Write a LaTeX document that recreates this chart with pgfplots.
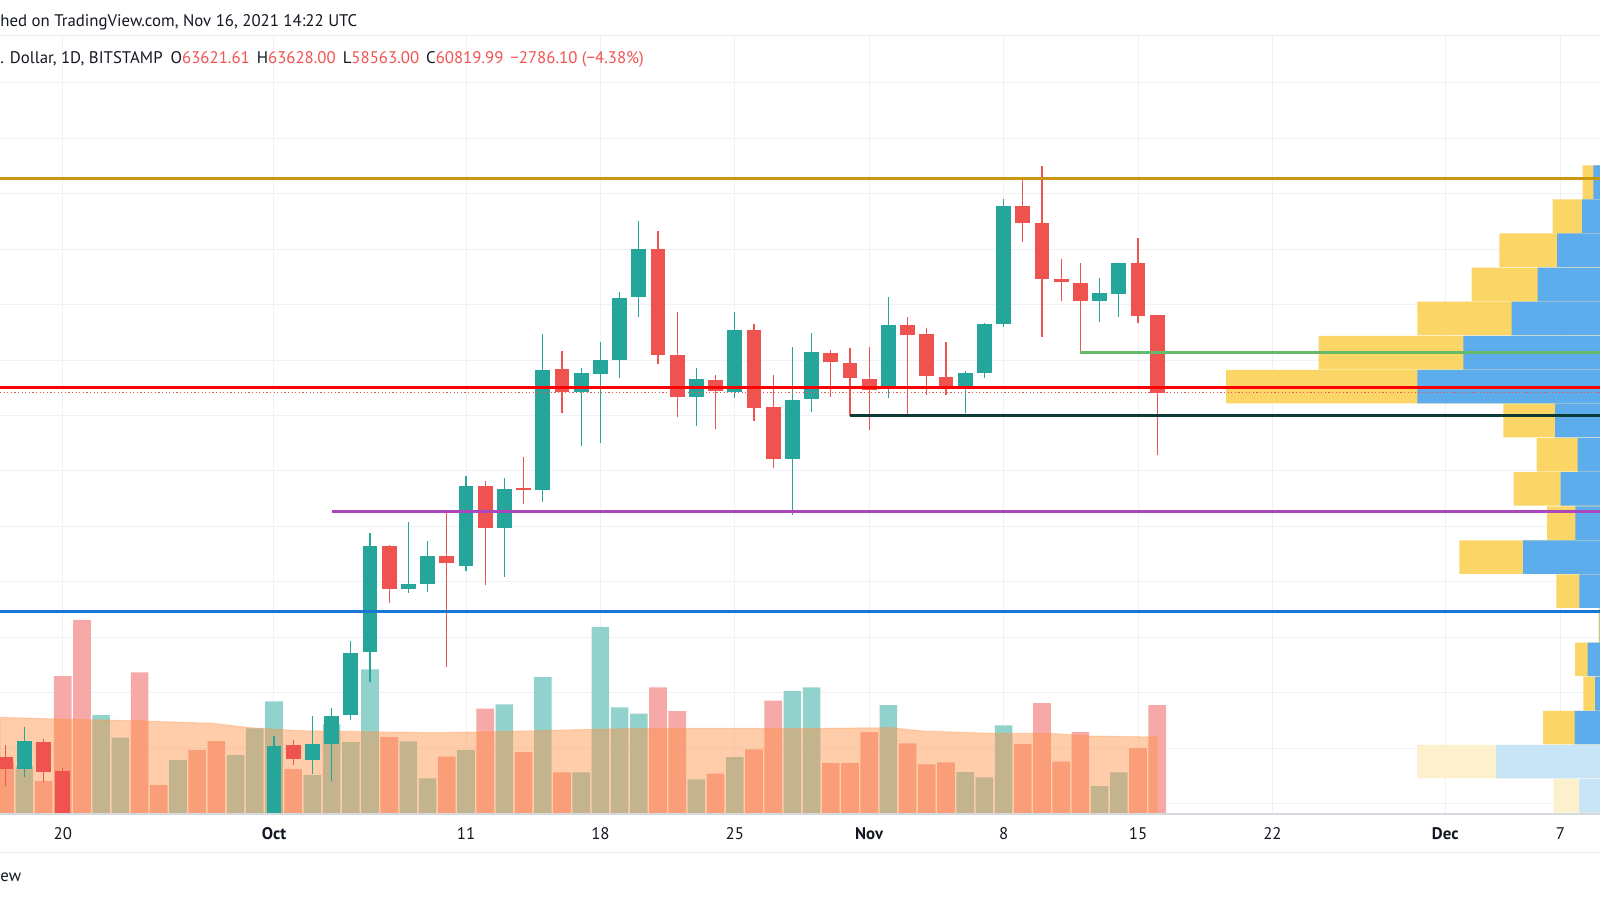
\documentclass[border=0pt]{standalone}
\usepackage{pgfplots}
\usepackage{pgfplotstable}
\pgfplotsset{compat=1.18}
\usepackage{fontspec}
\setmainfont{PT Sans}

\definecolor{cup}{RGB}{38,166,154}
\definecolor{cdn}{RGB}{239,83,80}
\definecolor{vup}{RGB}{146,210,204}
\definecolor{vdn}{RGB}{247,169,167}
\definecolor{maor}{RGB}{255,146,70}
\definecolor{vpy}{RGB}{251,213,102}
\definecolor{vpb}{RGB}{93,173,236}
\definecolor{vpyf}{RGB}{253,240,204}
\definecolor{vpbf}{RGB}{200,228,247}
\definecolor{gridc}{RGB}{238,241,248}
\definecolor{axisc}{RGB}{214,216,224}
\definecolor{labc}{RGB}{19,23,34}
\definecolor{lorange}{RGB}{204,150,18}
\definecolor{lgreen}{RGB}{102,187,106}
\definecolor{ldark}{RGB}{12,58,52}
\definecolor{lpurple}{RGB}{171,71,188}
\definecolor{lblue}{RGB}{25,118,210}

% day index: 0 = Oct 1
\pgfplotstableread{
d O H L C
-13 47249 48774 46982 48269
0 43800 48449 43300 48099
2 47584 49181 47069 48172
3 48172 49469 46838 49170
4 49206 51873 49026 51451
5 51466 55754 50384 55308
7 53758 56151 53592 53916
8 53916 55477 53650 54936
10 54587 57820 54407 57459
12 55956 57747 54180 57340
14 57315 62937 56883 61640
16 60858 61701 58912 61521
17 61485 62660 58998 62000
18 62000 64462 61341 64224
19 64282 67010 63539 65990
22 60656 61701 59622 61315
24 60858 63719 60642 63081
27 58432 62480 56414 60559
28 60584 62963 60137 62278
32 60944 64282 60642 63262
36 60980 61604 60079 61521
37 61521 63350 61362 63287
38 63287 67792 63200 67550
43 64127 64966 63381 64404
44 64379 65485 63561 65485
}\up
\pgfplotstableread{
d O H L C
-14 47703 48125 46658 47249
-12 48244 48341 46802 47163
-11 47199 47285 42500 43000
1 48125 48305 47404 47620
6 55308 55330 53253 53736
9 54936 56511 50947 54673
11 57459 57650 53891 55935
13 57369 58504 56810 57315
15 61687 62325 60079 60858
20 66001 66649 61845 62191
21 62170 63741 59935 60678
23 61279 61460 59503 60883
25 63081 63287 59813 60281
26 60296 61460 58097 58432
29 62253 62361 60656 61917
30 61881 62422 59993 61341
31 61315 62480 59477 60919
33 63262 63561 59993 62901
34 62937 63143 60739 61434
35 61398 62638 60739 60980
39 67550 68549 66242 66927
40 66927 68992 62840 64909
41 64919 65629 64137 64801
42 64764 65485 62278 64127
45 65485 66386 63345 63586
46 63621.61 63628 58563 60819.99
}\dn
\pgfplotstableread{
d v
-13 1183
-9 2475
-8 1908
-5 1350
-2 1475
-1 2143
0 2818
2 975
3 2243
4 1800
5 3618
7 1818
8 893
10 1600
12 2743
14 3425
16 1043
17 4675
18 2668
19 2508
22 868
24 1425
27 3075
28 3168
32 2725
36 1050
37 918
38 2218
43 700
44 1043
}\volup
\pgfplotstableread{
d v
-14 1308
-12 825
-11 3450
-10 4850
-7 3543
-6 725
-4 1600
-3 1825
1 1125
6 1925
9 1433
11 2633
13 1550
15 1043
20 3168
21 2575
23 1008
25 1618
26 2833
29 1275
30 1275
31 2050
33 1768
34 1243
35 1293
39 1750
40 2775
41 1308
42 2050
45 1650
46 2725
}\voldn
% volume profile rows: price, blue part, total
\pgfplotstableread{
p b t
68415 67 173
67186 180 473
65957 430 1007
64728 623 1283
63499 883 1827
62270 1367 2813
61041 1827 3740
59812 450 967
58583 223 633
57354 393 863
56125 247 530
54896 770 1407
53667 207 437
52438 5 15
51209 123 250
49980 50 167
48751 253 570
}\vp
\pgfplotstableread{
p b t
47522 1040 1830
46293 207 463
45064 400 863
}\vpf

\pgfplotsset{base/.style={scale only axis, width=800pt, height=389pt,
  at={(0pt,43pt)}, anchor=south west, xmin=-14.27, xmax=69.06,
  ymin=45638, ymax=73677}}
\newcommand{\tvf}{\fontsize{8.4}{10}\selectfont}

\begin{document}
\begin{tikzpicture}
\path[use as bounding box] (0,0) rectangle (800pt,450pt);

% grid and date axis
\begin{axis}[base,
  axis line style={draw=none},
  xtick={-11,0,10,17,24,31,38,45,52,61,67},
  xticklabels={20,\textbf{Oct},11,18,25,\textbf{Nov},8,15,22,\textbf{Dec},7},
  ytick={46000,48000,...,72000}, yticklabels={}, scaled y ticks=false,
  grid=major, major grid style={gridc, line width=0.5pt},
  major tick length=0pt,
  xticklabel style={anchor=center, yshift=-10pt, text=labc, font=\tvf}]
\addplot[draw=none] coordinates {(0,60000)};
\end{axis}

% volume and its average
\begin{axis}[base, hide axis, ymin=0, ymax=19450]
\addplot[ybar, bar width=8.8pt, bar shift=0pt, fill=vup, draw=none] table[x=d,y=v] {\volup};
\addplot[ybar, bar width=8.8pt, bar shift=0pt, fill=vdn, draw=none] table[x=d,y=v] {\voldn};
\addplot[fill=maor, fill opacity=0.46, draw=maor, draw opacity=0.35, line width=0.5pt] coordinates {
(-14.27,2418) (-10.8,2368) (-7.3,2333) (-3.2,2268) (-1.25,2158) (1.35,2083)
(4.8,2058) (8.3,2033) (11.8,2058) (16.5,2118) (19.9,2143) (28.6,2143)
(32.1,2158) (33.8,2075) (37.3,2018) (40.4,2018) (42.5,1950) (46,1925)} \closedcycle;
\end{axis}

% volume profile
\begin{axis}[base, hide axis, xmin=0, xmax=16000, x dir=reverse]
\addplot[xbar, bar width=16.75pt, bar shift=0pt, fill=vpy, draw=none] table[x=t,y=p] {\vp};
\addplot[xbar, bar width=16.75pt, bar shift=0pt, fill=vpb, draw=none] table[x=b,y=p] {\vp};
\addplot[xbar, bar width=16.75pt, bar shift=0pt, fill=vpyf, draw=none] table[x=t,y=p] {\vpf};
\addplot[xbar, bar width=16.75pt, bar shift=0pt, fill=vpbf, draw=none] table[x=b,y=p] {\vpf};
\end{axis}

% candles and drawn levels
\begin{axis}[base, hide axis]
\addplot[draw=none, mark=none, error bars/.cd, y dir=plus, y explicit, error mark=none,
  error bar style={draw=cup, line width=0.6pt}]
  table[x=d, y=L, y error expr=\thisrow{H}-\thisrow{L}] {\up};
\addplot[draw=none, mark=none, error bars/.cd, y dir=plus, y explicit, error mark=none,
  error bar style={draw=cup, line width=7.35pt}]
  table[x=d, y=O, y error expr=\thisrow{C}-\thisrow{O}] {\up};
\addplot[draw=none, mark=none, error bars/.cd, y dir=plus, y explicit, error mark=none,
  error bar style={draw=cdn, line width=0.6pt}]
  table[x=d, y=L, y error expr=\thisrow{H}-\thisrow{L}] {\dn};
\addplot[draw=none, mark=none, error bars/.cd, y dir=plus, y explicit, error mark=none,
  error bar style={draw=cdn, line width=7.35pt}]
  table[x=d, y=C, y error expr=\thisrow{O}-\thisrow{C}] {\dn};
\addplot[lorange, line width=1.4pt] coordinates {(-14.27,68541) (69.06,68541)};
\addplot[red, line width=1.5pt] coordinates {(-14.27,61000) (69.06,61000)};
\addplot[cdn, line width=0.5pt, dash pattern=on 0.6pt off 1.2pt] coordinates {(-14.27,60819.99) (69.06,60819.99)};
\addplot[lgreen, line width=1.3pt] coordinates {(42,62278) (69.06,62278)};
\addplot[ldark, line width=1.3pt] coordinates {(30,59993) (69.06,59993)};
\addplot[lpurple, line width=1.5pt] coordinates {(3,56558) (69.06,56558)};
\addplot[lblue, line width=1.5pt] coordinates {(-14.27,52929) (69.06,52929)};
\draw[axisc, line width=1pt] (rel axis cs:0,0) -- (rel axis cs:1,0);
\end{axis}

\draw[gridc!80!axisc, line width=0.5pt] (0pt,432.15pt) -- (800pt,432.15pt);
\draw[gridc!80!axisc, line width=0.5pt] (0pt,24pt) -- (800pt,24pt);

\begin{scope}[every node/.style={inner sep=0pt, anchor=base west, font=\tvf, text=labc}]
\node at (0pt,436.65pt) {hed on TradingView.com, Nov 16, 2021 14:22 UTC};
\node at (0pt,418.35pt) {. Dollar, 1D, BITSTAMP\hspace{4pt}O\textcolor{cdn}{63621.61}\hspace{3.5pt}H\textcolor{cdn}{63628.00}\hspace{3.5pt}L\textcolor{cdn}{58563.00}\hspace{3.5pt}C\textcolor{cdn}{60819.99}\hspace{3.5pt}\textcolor{cdn}{−2786.10 (−4.38\%)}};
\node at (0pt,9.15pt) {ew};
\end{scope}
\end{tikzpicture}
\end{document}
